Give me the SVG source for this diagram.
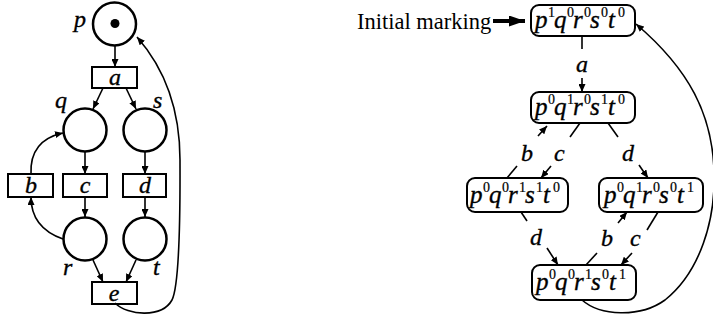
<svg xmlns="http://www.w3.org/2000/svg" width="713" height="322" viewBox="0 0 713 322">
  <style>
    .place { fill: #fff; stroke: #000; stroke-width: 2.5; }
    .trans { fill: #fff; stroke: #000; stroke-width: 2; }
    .state { fill: #fff; stroke: #000; stroke-width: 2; }
    .edge { fill: none; stroke: #000; stroke-width: 1.6; }
    .lbl { font-family: "Liberation Serif", "Times New Roman", serif; font-style: italic; font-size: 24px; fill: #000; stroke: #000; stroke-width: 0.35; }
    .mk { font-family: "Liberation Serif", "Times New Roman", serif; font-style: italic; font-size: 25px; fill: #000; stroke: #000; stroke-width: 0.35; }
    .mid { text-anchor: middle; }
    .sup { font-family: "Liberation Serif", "Times New Roman", serif; font-style: normal; font-size: 14px; stroke-width: 0.2; }
    .plain { font-family: "Liberation Serif", "Times New Roman", serif; font-size: 22.5px; fill: #000; }
  </style>
  <defs>
    <marker id="ah" markerWidth="8" markerHeight="7" refX="8" refY="3.5" orient="auto" markerUnits="userSpaceOnUse">
      <path d="M0,0 L8,3.5 L0,7 z" fill="#000"/>
    </marker>
    <marker id="bigah" markerWidth="16" markerHeight="11" refX="16" refY="5.5" orient="auto" markerUnits="userSpaceOnUse">
      <path d="M0,0 L16,5.5 L0,11 z" fill="#000"/>
    </marker>
  </defs>

  <!-- Petri net: places -->
  <g id="place-p">
    <circle class="place" cx="114.5" cy="24" r="21.5"/>
    <circle cx="115" cy="23.5" r="4.5" fill="#000"/>
    <text class="lbl" x="74" y="27">p</text>
  </g>
  <g id="place-q">
    <circle class="place" cx="85" cy="130" r="21.5"/>
    <text class="lbl" x="55" y="108">q</text>
  </g>
  <g id="place-s">
    <circle class="place" cx="145" cy="130" r="21.5"/>
    <text class="lbl" x="153" y="108">s</text>
  </g>
  <g id="place-r">
    <circle class="place" cx="85" cy="239" r="21.5"/>
    <text class="lbl" x="63" y="275">r</text>
  </g>
  <g id="place-t">
    <circle class="place" cx="145" cy="239" r="21.5"/>
    <text class="lbl" x="153" y="275">t</text>
  </g>

  <!-- Petri net: transitions -->
  <g id="trans-a">
    <rect class="trans" x="92" y="67" width="45" height="21"/>
    <text class="lbl mid" x="115" y="85">a</text>
  </g>
  <g id="trans-b">
    <rect class="trans" x="8" y="174" width="45" height="23"/>
    <text class="lbl mid" x="31" y="193">b</text>
  </g>
  <g id="trans-c">
    <rect class="trans" x="63" y="174" width="44" height="23"/>
    <text class="lbl mid" x="85" y="193">c</text>
  </g>
  <g id="trans-d">
    <rect class="trans" x="123" y="174" width="43" height="23"/>
    <text class="lbl mid" x="145" y="193">d</text>
  </g>
  <g id="trans-e">
    <rect class="trans" x="92" y="282" width="45" height="22"/>
    <text class="lbl mid" x="114" y="301">e</text>
  </g>

  <!-- Petri net: arcs -->
  <g id="net-arcs">
    <path class="edge" d="M115,46 L115,67" marker-end="url(#ah)"/>
    <path class="edge" d="M103,88 L93,109" marker-end="url(#ah)"/>
    <path class="edge" d="M126,88 L136,109" marker-end="url(#ah)"/>
    <path class="edge" d="M85,152 L85,174" marker-end="url(#ah)"/>
    <path class="edge" d="M145,152 L145,174" marker-end="url(#ah)"/>
    <path class="edge" d="M85,197 L85,217" marker-end="url(#ah)"/>
    <path class="edge" d="M145,197 L145,217" marker-end="url(#ah)"/>
    <path class="edge" d="M31,174 C30,152 40,138 63,133" marker-end="url(#ah)"/>
    <path class="edge" d="M63,239 C40,231 31,216 31,197" marker-end="url(#ah)"/>
    <path class="edge" d="M93,260 L103,282" marker-end="url(#ah)"/>
    <path class="edge" d="M136,260 L126,282" marker-end="url(#ah)"/>
    <path class="edge" d="M115,303 C128,316 162,318 172,300 C181,282 180,190 180,160 C180,110 166,70 137,37" marker-end="url(#ah)"/>
  </g>

  <!-- Reachability graph: initial marking pointer -->
  <g id="initial">
    <text class="plain" x="357" y="29">Initial marking</text>
    <path d="M493,21 L525,21" stroke="#000" stroke-width="4" fill="none" marker-end="url(#bigah)"/>
  </g>

  <!-- Reachability graph: markings -->
  <g id="m1">
    <rect class="state" x="531" y="5" width="104" height="31" rx="8"/>
    <text class="mk"><tspan x="535" y="28">p</tspan><tspan class="sup" x="548" y="17">1</tspan><tspan x="554" y="28">q</tspan><tspan class="sup" x="567" y="17">0</tspan><tspan x="573" y="28">r</tspan><tspan class="sup" x="584" y="17">0</tspan><tspan x="590" y="28">s</tspan><tspan class="sup" x="601" y="17">0</tspan><tspan x="608" y="28">t</tspan><tspan class="sup" x="618" y="17">0</tspan></text>
  </g>
  <g id="m2">
    <rect class="state" x="531" y="92" width="104" height="31" rx="8"/>
    <text class="mk"><tspan x="535" y="115">p</tspan><tspan class="sup" x="548" y="104">0</tspan><tspan x="554" y="115">q</tspan><tspan class="sup" x="567" y="104">1</tspan><tspan x="573" y="115">r</tspan><tspan class="sup" x="584" y="104">0</tspan><tspan x="590" y="115">s</tspan><tspan class="sup" x="601" y="104">1</tspan><tspan x="608" y="115">t</tspan><tspan class="sup" x="618" y="104">0</tspan></text>
  </g>
  <g id="m3">
    <rect class="state" x="467" y="178" width="101" height="34" rx="8"/>
    <text class="mk"><tspan x="470" y="203">p</tspan><tspan class="sup" x="483" y="192">0</tspan><tspan x="489" y="203">q</tspan><tspan class="sup" x="502" y="192">0</tspan><tspan x="508" y="203">r</tspan><tspan class="sup" x="519" y="192">1</tspan><tspan x="525" y="203">s</tspan><tspan class="sup" x="536" y="192">1</tspan><tspan x="543" y="203">t</tspan><tspan class="sup" x="553" y="192">0</tspan></text>
  </g>
  <g id="m4">
    <rect class="state" x="599" y="178" width="104" height="34" rx="8"/>
    <text class="mk"><tspan x="604" y="203">p</tspan><tspan class="sup" x="617" y="192">0</tspan><tspan x="623" y="203">q</tspan><tspan class="sup" x="636" y="192">1</tspan><tspan x="642" y="203">r</tspan><tspan class="sup" x="653" y="192">0</tspan><tspan x="659" y="203">s</tspan><tspan class="sup" x="670" y="192">0</tspan><tspan x="677" y="203">t</tspan><tspan class="sup" x="687" y="192">1</tspan></text>
  </g>
  <g id="m5">
    <rect class="state" x="532" y="265" width="104" height="35" rx="8"/>
    <text class="mk"><tspan x="536" y="290">p</tspan><tspan class="sup" x="549" y="279">0</tspan><tspan x="555" y="290">q</tspan><tspan class="sup" x="568" y="279">0</tspan><tspan x="574" y="290">r</tspan><tspan class="sup" x="585" y="279">1</tspan><tspan x="591" y="290">s</tspan><tspan class="sup" x="602" y="279">0</tspan><tspan x="609" y="290">t</tspan><tspan class="sup" x="619" y="279">1</tspan></text>
  </g>

  <!-- Reachability graph: labelled transitions -->
  <g id="graph-edges">
    <path class="edge" d="M582,36 L582,49"/>
    <path class="edge" d="M582,78 L582,92" marker-end="url(#ah)"/>
    <text class="lbl mid" x="582" y="72">a</text>

    <path class="edge" d="M507,178 L517,166"/>
    <path class="edge" d="M538,136 L547,126" marker-end="url(#ah)"/>
    <text class="lbl" x="521" y="161">b</text>

    <path class="edge" d="M580,123 L570,137"/>
    <path class="edge" d="M551,166 L541,178" marker-end="url(#ah)"/>
    <text class="lbl" x="554" y="161">c</text>

    <path class="edge" d="M608,123 L618,137"/>
    <path class="edge" d="M639,165 L648,178" marker-end="url(#ah)"/>
    <text class="lbl" x="622" y="161">d</text>

    <path class="edge" d="M521,212 L527,221"/>
    <path class="edge" d="M547,248 L558,265" marker-end="url(#ah)"/>
    <text class="lbl" x="530" y="245">d</text>

    <path class="edge" d="M586,265 L597,253"/>
    <path class="edge" d="M618,223 L627,212" marker-end="url(#ah)"/>
    <text class="lbl" x="601" y="246">b</text>

    <path class="edge" d="M658,212 L647,230"/>
    <path class="edge" d="M632,253 L621,265" marker-end="url(#ah)"/>
    <text class="lbl" x="630" y="246">c</text>

    <path class="edge" d="M582,300 C600,316 640,318 665,300 C700,272 716,220 714,170 C712,115 690,70 636,24" marker-end="url(#ah)"/>
  </g>
</svg>
